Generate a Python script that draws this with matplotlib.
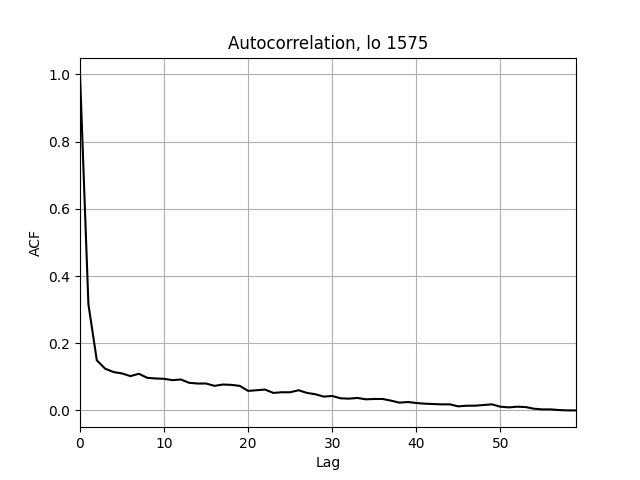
import matplotlib
matplotlib.use("Agg")
import matplotlib.pyplot as plt
import numpy as np

# ACF values, lags 0..59
lags = np.arange(60)
acf = [1.000, 0.316, 0.149, 0.124, 0.114, 0.110, 0.102, 0.109, 0.097, 0.095,
       0.094, 0.090, 0.092, 0.082, 0.080, 0.080, 0.073, 0.077, 0.076, 0.073,
       0.058, 0.060, 0.062, 0.052, 0.054, 0.054, 0.060, 0.052, 0.048, 0.041,
       0.043, 0.036, 0.035, 0.037, 0.033, 0.034, 0.034, 0.029, 0.023, 0.025,
       0.022, 0.020, 0.019, 0.018, 0.018, 0.012, 0.014, 0.014, 0.016, 0.018,
       0.011, 0.009, 0.011, 0.010, 0.005, 0.003, 0.003, 0.001, 0.000, 0.000]

fig, ax = plt.subplots(figsize=(6.4, 4.8), dpi=100)
ax.plot(lags, acf, color='k')
ax.set_xlim(0, lags[-1])
ax.set_title("Autocorrelation, lo 1575")
ax.set_xlabel("Lag")
ax.set_ylabel("ACF")
ax.grid(True)

fig.savefig("out.png")
